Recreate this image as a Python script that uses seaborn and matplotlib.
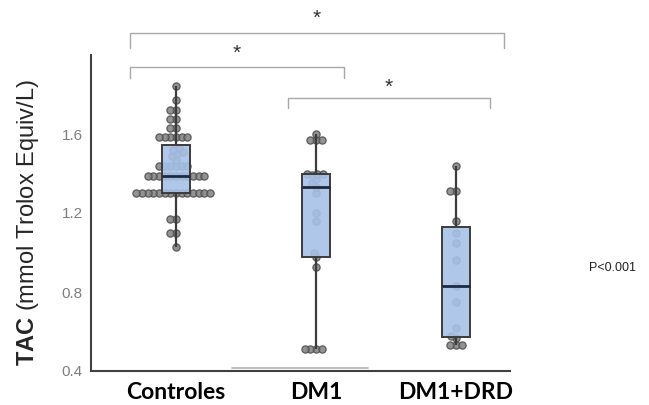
import matplotlib
matplotlib.use("Agg")
import matplotlib.pyplot as plt
import seaborn as sns
import pandas as pd

# ---------------- data ----------------
categories = ["Controles", "DM1", "DM1+DRD"]

controles_vals = [1.03, 1.10, 1.10, 1.17, 1.17,
                  1.30, 1.30, 1.30, 1.30, 1.30, 1.30, 1.30, 1.30, 1.30, 1.30, 1.30, 1.30, 1.30, 1.30,
                  1.385, 1.385, 1.385, 1.385, 1.385, 1.385, 1.385, 1.385, 1.385, 1.385, 1.385,
                  1.44, 1.44, 1.44, 1.44, 1.44, 1.44,
                  1.47, 1.49, 1.50, 1.51, 1.52, 1.53,
                  1.585, 1.585, 1.585, 1.585, 1.585, 1.585,
                  1.63, 1.63, 1.675, 1.675, 1.72, 1.72, 1.77, 1.845]

dm1_vals = [0.51, 0.51, 0.51, 0.51, 0.925, 0.975, 1.00, 1.16, 1.20, 1.30, 1.33,
            1.35, 1.37, 1.39, 1.40, 1.40, 1.40, 1.57, 1.57, 1.57, 1.60]

drd_vals = [0.53, 0.53, 0.53, 0.565, 0.575, 0.62, 0.75, 0.83, 0.96, 1.05,
            1.10, 1.16, 1.31, 1.31, 1.44]

yticks = [0.4, 0.8, 1.2, 1.6]
ytick_labels = ["0.4", "0.8", "1.2", "1.6"]

# significance brackets: (left category pos, right category pos, label)
bracket_pairs = [(-0.33, 2.343, "*"), (-0.33, 1.20, "*"), (0.80, 2.243, "*")]
p_text = "P<0.001"

df = pd.DataFrame({
    "grupo": [categories[0]] * len(controles_vals) + [categories[1]] * len(dm1_vals)
             + [categories[2]] * len(drd_vals),
    "TAC": controles_vals + dm1_vals + drd_vals,
})

# ---------------- figure ----------------
sns.set_style("white")
plt.rcParams["mathtext.fontset"] = "custom"
plt.rcParams["mathtext.rm"] = "Liberation Sans"
plt.rcParams["mathtext.bf"] = "Liberation Sans:bold"

fig = plt.figure(figsize=(6.49, 4.05), dpi=100)
ax = fig.add_axes([91 / 649, 34 / 405, (510 - 91) / 649, (371 - 55) / 405])

sns.swarmplot(data=df, x="grupo", y="TAC", order=categories, ax=ax,
              color="#808080", edgecolor="#4a4a4a", linewidth=0.8, size=3.1,
              alpha=0.85, zorder=1)
swarm_colls = list(ax.collections)

sns.boxplot(data=df, x="grupo", y="TAC", order=categories, ax=ax,
            width=0.2, showcaps=False, showfliers=False, linewidth=1.4,
            boxprops=dict(facecolor=(0.65, 0.76, 0.91, 0.9), edgecolor="#3c3c3c", zorder=3),
            whiskerprops=dict(color="#3c3c3c", linewidth=1.6, zorder=3),
            medianprops=dict(color="#1d2940", linewidth=2.0, zorder=4))

ax.set_xlim(-0.607, 2.386)
ax.set_ylim(0.4, 2.0)
ax.set_yticks(yticks)
ax.set_yticklabels(ytick_labels, color="#7f7f7f", fontsize=11,
                   family=["Liberation Sans", "DejaVu Sans"])
ax.set_xticks(range(len(categories)))
ax.set_xticklabels(categories, fontsize=16.5, fontweight="bold",
                   family=["Lato", "DejaVu Sans"], color="black")
ax.tick_params(axis="x", length=3, width=1, color="#404040", pad=5)
ax.tick_params(axis="y", length=4, width=1.5, color="#404040", pad=2)

for s in ["top", "right"]:
    ax.spines[s].set_visible(False)
for s in ["left", "bottom"]:
    ax.spines[s].set_color("#404040")
    ax.spines[s].set_linewidth(1.5)

ax.set_xlabel("")
ax.set_ylabel(r"$\mathbf{TAC}$ (mmol Trolox Equiv/L)", fontsize=17,
              family=["Liberation Sans", "DejaVu Sans"])
ax.yaxis.set_label_coords(-0.12, 0.47)

# faint grey line above the axis near DM1
ax.plot([0.40, 1.37], [0.415, 0.415], color="#b0b0b0", linewidth=1.2, zorder=2)

# brackets
bracket_y = [(2.112, 2.036), (1.940, 1.885), (1.784, 1.733)]
star_y = [2.188, 2.006, 1.834]
for (x0, x1, lab), (yt, yb), sy in zip(bracket_pairs, bracket_y, star_y):
    ax.plot([x0, x0, x1, x1], [yb, yt, yt, yb], color="#a8a8a8", linewidth=1.0,
            clip_on=False, zorder=5)
    ax.text((x0 + x1) / 2, sy, lab, ha="center", va="center", fontsize=15,
            color="#303030", clip_on=False, family=["Liberation Sans", "DejaVu Sans"])

fig.text(589 / 649, 1 - 268 / 405, p_text, fontsize=9, color="#222222",
         ha="left", va="center", family=["Liberation Sans", "DejaVu Sans"])

# let seaborn place the swarm, then freeze it and enlarge the dots so they overlap
fig.canvas.draw()
for c in swarm_colls:
    c.__dict__.pop("draw", None)
    c.set_sizes([5.2 ** 2])
    c.set_linewidth(0.9)

fig.savefig("out.png", dpi=100)
